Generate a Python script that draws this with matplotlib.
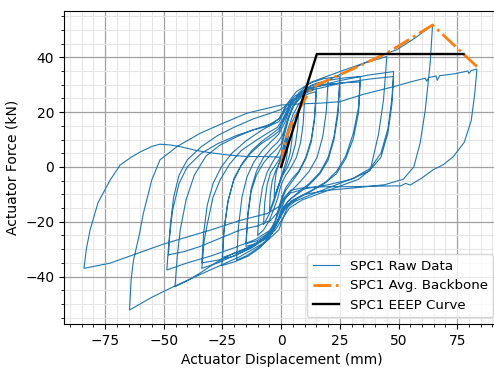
import numpy as np
import matplotlib
matplotlib.use("Agg")
import matplotlib.pyplot as plt
from matplotlib.ticker import MultipleLocator

# raw actuator record, one list per cycle (displacement mm, force kN)
cyc_03 = [(0, 0), (0.8, 3), (1.6, 6.5), (2.4, 9), (3, 11),
          (2.7, 6), (2.1, 2), (1, -1), (0, -3.5), (-1, -6.5), (-2, -9), (-3, -11)]
cyc_05 = [(-2.7, -6), (-2.1, -2), (-1, 1), (0, 3.5), (1.5, 7.5), (3, 11.5), (4, 14), (5, 16),
          (4.6, 10), (3.8, 5), (2.4, 1), (1, -2), (0, -4), (-1.5, -7.5), (-3, -11.5), (-4, -14), (-5, -16)]
cyc_08 = [(-4.6, -10), (-3.8, -5), (-2.4, -1.5), (-1, 1), (0, 3), (1.5, 8), (3, 12.5), (5, 17), (6.5, 19.5), (7.5, 21),
          (7, 14), (6, 8), (4.3, 3), (2.5, -0.5), (1, -2.5), (0, -4.5), (-1.5, -8.5), (-3, -12.5), (-5, -17),
          (-6.5, -19.5), (-7.5, -21)]
cyc_10 = [(-7, -13), (-6, -6.5), (-4.5, -2), (-2.5, 0.5), (-1, 2.5), (0, 4.5), (1.5, 9.5), (3, 14), (5, 19),
          (7.5, 23), (10, 25),
          (9.4, 16), (8.3, 9), (6.5, 3.5), (4, -0.5), (2, -3), (0.5, -5.5), (-0.5, -8), (-1.5, -11.5), (-3, -15),
          (-5, -19.5), (-7.5, -23), (-10, -25)]
cyc_15a = [(-9.3, -15), (-8, -7.5), (-6, -2), (-3.5, 2), (-1.5, 4.5), (0, 7), (1.5, 12), (3, 17), (5, 22),
           (8, 25.5), (11, 27.5), (15, 28.5),
           (14.2, 18), (12.8, 10), (10.5, 3.5), (7.5, -1.5), (4.5, -4.5), (2, -7.5), (0.3, -11), (-1, -15),
           (-2.5, -19.5), (-4.5, -23), (-7.5, -26), (-11, -28), (-15, -29)]
cyc_15b = [(-14.2, -18), (-12.8, -9), (-10.5, -3), (-7.5, 1.5), (-4.5, 4.5), (-2, 6.5), (0, 8.5), (1.5, 13),
           (3, 18), (5.5, 22.5), (8.5, 25.5), (12, 26.8), (15, 27.5),
           (14.2, 17), (12.8, 9), (10.5, 3), (7.5, -2), (4.5, -5.5), (2, -8.5), (0.3, -12), (-1, -16.5),
           (-3, -21), (-6, -24.5), (-10.5, -27), (-15, -28)]
cyc_20 = [(-14.2, -17), (-12.8, -8), (-10.5, -1.5), (-7.5, 3.5), (-4, 7), (-1.5, 9), (0.5, 11.5), (2.5, 16.5),
          (4.5, 21.5), (7.5, 26), (11, 28.8), (15, 30.5), (20, 31.5),
          (19.2, 20), (17.7, 11), (15.3, 3.5), (12, -1.5), (8, -5.5), (4, -9), (1.5, -12), (0, -15.5), (-1.5, -20),
          (-4, -24.5), (-7.5, -28), (-11.5, -30.5), (-15, -32.5), (-19, -34)]
cyc_25a = [(-18.2, -22), (-16.7, -11), (-14.5, -3.5), (-11.5, 2), (-8, 6), (-4, 9.5), (-1, 12), (1.5, 16),
           (4, 22), (7.5, 27), (12, 30.5), (18, 32.2), (25, 33),
           (24.2, 21), (22.5, 11), (20, 3.5), (16.5, -2), (12, -6), (7, -9.5), (3, -12.5), (0.5, -16), (-2, -21),
           (-5, -25.5), (-9, -29.5), (-14, -32.5), (-19.5, -34.5), (-25.3, -36)]
cyc_25b = [(-24.5, -24), (-22.8, -13), (-20.3, -5), (-17, 0.5), (-13, 5), (-8.5, 8.5), (-4, 11), (-1, 13),
           (1.5, 17.5), (4, 22.5), (7.5, 26.5), (12, 28.8), (18, 29.9), (25, 30.5),
           (24.2, 19), (22.5, 10), (20, 2.5), (16.5, -2.5), (12, -6.5), (7.5, -9.5), (3.5, -12), (1, -14.5),
           (-1, -18.5), (-3.5, -22.5), (-7.5, -26), (-12, -28.5), (-18, -31), (-25, -33)]
cyc_34a = [(-24.2, -22), (-22.5, -12), (-20, -4), (-16.5, 1.5), (-12.5, 6), (-8, 9.5), (-4, 12), (-1, 14),
           (1.5, 18), (4, 23), (8, 27), (13, 29.8), (20, 31.6), (27, 32.5), (33.7, 33),
           (33, 22), (30.8, 12.4), (27.5, 4), (23.7, -1.5), (19, -5.5), (13, -8.5), (7.5, -11), (3, -13.5),
           (0.5, -16.5), (-2, -21), (-6, -25.5), (-12, -29), (-20.3, -32.5), (-27, -35), (-33.8, -37)]
cyc_34b = [(-32.8, -27), (-31.7, -21.8), (-29, -11), (-26, -4.7), (-22, 1), (-17, 6), (-11, 9.5), (-5.5, 12.5),
           (-1.5, 14.5), (1, 18), (3.5, 22.5), (7, 26), (12, 28.5), (19, 30), (26, 30.7), (33.7, 31),
           (33, 20), (30.8, 10.5), (27.5, 3), (23.5, -2.5), (18.5, -6), (12.5, -9), (7, -11.5), (2.5, -14),
           (0, -17.5), (-2.5, -22), (-6.5, -26), (-12.5, -29.5), (-20, -32.5), (-27, -34), (-33.8, -35)]
cyc_45a = [(-33, -24), (-31.5, -14), (-29, -6), (-25.5, 0), (-21, 5), (-15, 9.5), (-9, 13), (-4, 15.5),
           (-0.5, 18), (2.5, 23), (6.5, 27.5), (13, 31), (25, 34.8), (35, 37.8), (45, 40.3),
           (44.3, 32), (43.6, 24.5), (41.5, 12), (38, -1), (33, -4.5), (25, -7), (17, -9.5), (9, -12), (3.5, -15),
           (0.5, -19), (-2.5, -23), (-7, -26.5), (-13, -29), (-20.3, -31.5), (-28, -35), (-34.5, -38.7),
           (-40, -41.5), (-45.2, -43.7)]
cyc_48a = [(-44.3, -33), (-43, -23), (-40.5, -12), (-37, -3), (-32, 4), (-26, 8), (-19, 11), (-12, 13.5),
           (-5, 15.5), (-1, 17.5), (2, 22), (6, 26), (13, 29), (25, 31.5), (37, 33.5), (47.9, 34.8),
           (47.2, 25), (45.5, 14), (42.5, 5), (38, -0.5), (31, -4), (22, -7), (13, -10), (6, -12.5), (1.5, -15.5),
           (-1, -19.5), (-4.5, -23), (-11, -26.5), (-20, -29.5), (-30, -32.5), (-40, -35), (-48.7, -37.6)]
cyc_48b = [(-47.8, -27), (-46.3, -16), (-43.5, -6), (-40, 0), (-34, 5), (-27, 8.5), (-19, 11.5), (-12, 13.5),
           (-5, 15), (-1, 16.5), (2, 21), (6, 25), (13, 28), (25, 30.5), (37, 32), (47.9, 33),
           (47.2, 23), (45.5, 12.5), (42.5, 3.5), (37.5, -1.5), (30, -4.5), (20, -6.5), (10, -8), (4, -9.5),
           (1, -12), (-1, -16), (-4.5, -19.5), (-10, -21.5), (-17.5, -23), (-26, -26), (-34.5, -29),
           (-41, -30.8), (-48, -32.1)]
cyc_65 = [(-47.2, -21), (-45.8, -11), (-43.5, -3), (-40, 2.6), (-34, 7.4), (-27, 11.5), (-20, 14.5), (-12, 17.5),
          (-5, 19.5), (0, 21), (5, 24.5), (12, 28), (22, 32.5), (32, 36.5), (42, 40.5), (49.3, 42.8), (57, 47),
          (64.5, 51.8),
          (63.5, 38), (62.3, 28), (61.4, 20.8), (59.2, 8.7), (56.5, 0), (52, -4.5), (44, -6.5), (33, -7.5),
          (20, -8.5), (10, -10), (4, -12.5), (1.5, -17), (-1, -23), (-6, -27), (-17.5, -32.7), (-30, -37.5),
          (-45.9, -43.7), (-55, -47.5), (-64.6, -52.2)]
cyc_85 = [(-63.9, -41), (-62.9, -34), (-60.5, -25), (-58.7, -16.9), (-55.1, -4.7), (-51.6, 2.6), (-44.4, 7.4),
          (-34.5, 12.3), (-26, 15.5), (-14.6, 19.6), (-6, 21.4), (0, 22.6), (8, 23), (17, 23.3), (25, 23.8),
          (35, 26.5), (48, 29.3), (55, 31), (61.4, 32.4), (62, 31.3), (62.8, 32.6), (66, 33.2), (66.5, 31.6),
          (67.5, 33.3), (74, 34), (79.5, 35), (80, 34.1), (81, 35.2), (83.4, 35.7),
          (82.5, 27), (81, 17), (78, 9), (73.4, 3.8), (69, 0.8), (64.8, -1), (60, -4), (55, -6.6), (53, -6),
          (51, -6.9), (40, -7), (30, -7.2), (20, -7.2), (10, -7.5), (4, -8.5), (1.5, -11), (-1, -14.5),
          (-6, -17), (-17.5, -19.5), (-30, -23), (-50, -28.1), (-72.9, -35.1), (-84, -37)]
cyc_end = [(-83, -30), (-81.4, -23), (-78, -13), (-73, -5), (-68.6, 0.7), (-64, 3.5), (-60, 5.5), (-55, 7.5),
           (-51.6, 8.3), (-47, 8), (-43, 7.4), (-36, 6), (-30.3, 5.2), (-22, 4.3), (-14.6, 3.8), (-6, 3.8), (0, 3.5)]

raw_path = (cyc_03 + cyc_05 + cyc_08 + cyc_10 + cyc_15a + cyc_15b + cyc_20 + cyc_25a + cyc_25b
            + cyc_34a + cyc_34b + cyc_45a + cyc_48a + cyc_48b + cyc_65 + cyc_85 + cyc_end)
raw_disp = np.array([p[0] for p in raw_path])
raw_force = np.array([p[1] for p in raw_path])

# averaged backbone
bb_disp = [0, 1, 2.5, 5, 8, 11.6, 13.1, 15.2, 28, 45, 64.5, 83.4]
bb_force = [0, 6, 11.5, 17, 21.5, 26.9, 28.4, 29.9, 34.8, 41.5, 51.8, 36.6]

# EEEP bilinear curve
eeep_disp = [0, 15.2, 77.7]
eeep_force = [0, 41.2, 41.2]

fig = plt.figure(figsize=(4.94, 3.68), dpi=100)
ax = fig.add_axes([0.1296, 0.1196, 0.8824, 0.8505])

ax.plot(raw_disp, raw_force, color="#1f77b4", lw=0.8, label="SPC1 Raw Data")
ax.plot(bb_disp, bb_force, color="#ff7f0e", lw=2, ls="-.", label="SPC1 Avg. Backbone")
ax.plot(eeep_disp, eeep_force, color="black", lw=1.7, label="SPC1 EEEP Curve")

ax.set_xlim(-92.5, 93.2)
ax.set_ylim(-57.3, 56.9)
ax.xaxis.set_major_locator(MultipleLocator(25))
ax.xaxis.set_minor_locator(MultipleLocator(5))
ax.yaxis.set_major_locator(MultipleLocator(20))
ax.yaxis.set_minor_locator(MultipleLocator(5))
ax.grid(which="major", color="#a0a0a0", lw=0.9)
ax.grid(which="minor", color="#e6e6e6", lw=0.8)
ax.set_axisbelow(True)

ax.set_xlabel("Actuator Displacement (mm)")
ax.set_ylabel("Actuator Force (kN)")
ax.legend(loc="lower right", fontsize=9.6)

fig.savefig("out.png", dpi=100)
